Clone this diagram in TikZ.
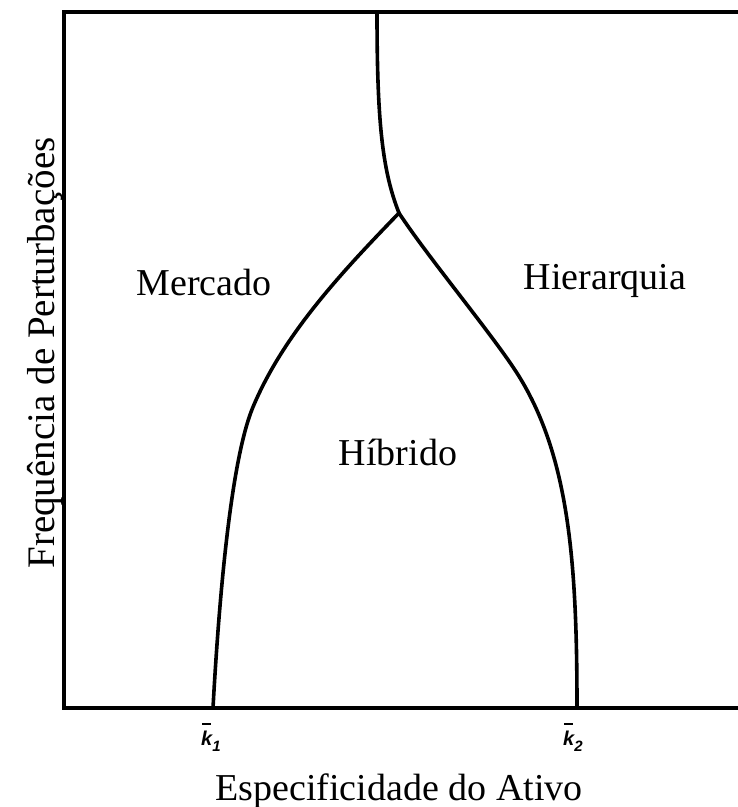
\documentclass[tikz,border=0pt]{standalone}
\usepackage{fontspec}
\setmainfont{Liberation Serif}
\newfontfamily\kfont{Liberation Sans}
\newcommand{\kbarlabel}[1]{{\kfont\bfseries\itshape\fontsize{20}{20}\selectfont\rlap{\hspace{0.06em}\rule[1.0em]{0.42em}{0.1em}}k\raisebox{-0.3em}{\fontsize{15}{15}\selectfont #1}}}
\tikzset{
  frame/.style={line width=4pt, line join=miter},
  curve/.style={line width=3.6pt, line cap=round},
  region/.style={font=\fontsize{38}{38}\selectfont, inner sep=0pt, anchor=base},
  axislabel/.style={font=\fontsize{38}{38}\selectfont, inner sep=0pt, anchor=base},
  klabel/.style={inner sep=0pt, anchor=base west}
}
\begin{document}
\begin{tikzpicture}[x=1pt,y=-1pt]
\useasboundingbox (0,0) rectangle (738,807);
\coordinate (tr) at (740,12);
\coordinate (tl) at (64,12);
\coordinate (bl) at (64,708);
\coordinate (br) at (740,708);
\draw[frame] (tr) -- (tl) -- (bl) -- (br);
\coordinate (top) at (377,12);
\coordinate (j) at (399,213);
\coordinate (lm) at (253,407);
\coordinate (lb) at (213,708);
\coordinate (rm) at (513,367);
\coordinate (rb) at (577,708);
% top branch
\draw[curve] (top) .. controls (377,120) and (382,170) .. (j);
% left branch
\draw[curve] (j) .. controls (344,270) and (284,333) .. (lm)
                 .. controls (230,462) and (218.5,608) .. (lb);
% right branch
\draw[curve] (j) .. controls (426.5,255) and (485,325.5) .. (rm)
                 .. controls (569,450) and (577,560) .. (rb);
\node[region] (mercado) at (204,295) {Mercado};
\node[region] (hier) at (605,289) {Hierarquia};
\node[region] (hib) at (398,465) {Híbrido};
\node[axislabel] (xlab) at (399,800) {Especificidade do Ativo};
\node[axislabel, font=\fontsize{39}{39}\selectfont, rotate=90] (ylab) at (54,353) {Frequência de Perturbações};
\node[klabel] (k1) at (201,745) {\kbarlabel{1}};
\node[klabel] (k2) at (563,745) {\kbarlabel{2}};
\end{tikzpicture}
\end{document}
